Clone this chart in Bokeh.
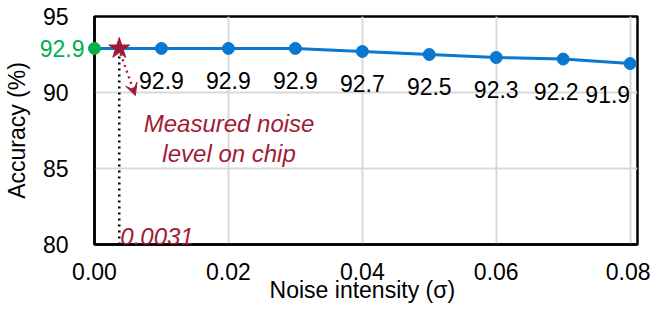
from bokeh.plotting import figure
from bokeh.models import (FixedTicker, NumeralTickFormatter, Label, Arrow, VeeHead,
                          ColumnDataSource, Range1d)
from bokeh.embed import file_html
from bokeh.resources import INLINE
from bokeh.core.properties import value

# ---- data ----
noise = [0.00, 0.01, 0.02, 0.03, 0.04, 0.05, 0.06, 0.07, 0.08]
accuracy = [92.9, 92.9, 92.9, 92.9, 92.7, 92.5, 92.3, 92.2, 91.9]
labels = ["92.9", "92.9", "92.9", "92.9", "92.7", "92.5", "92.3", "92.2", "91.9"]
measured_x = [0.0037]
measured_y = [92.9]
measured_label = "0.0031"
x_ticks = [0.00, 0.02, 0.04, 0.06, 0.08]
y_ticks = [80, 85, 90, 95]
x_title = "Noise intensity (σ)"
y_title = "Accuracy (%)"

FONT = "Liberation Sans"
BLUE = "#0A78CF"
RED = "#A01C36"
GREEN = "#00B050"
FS = "23px"
FS_ANN = "24px"

p = figure(width=650, height=305, output_backend="svg", toolbar_location=None,
           x_range=Range1d(0, 0.0811), y_range=Range1d(80, 95),
           min_border_left=79, min_border_top=16, min_border_right=13, min_border_bottom=61)

p.outline_line_color = "black"
p.outline_line_width = 2.5
p.background_fill_color = "white"
p.border_fill_color = "white"

for ax in (p.xaxis[0], p.yaxis[0]):
    ax.axis_line_color = "black"
    ax.axis_line_width = 2.5
    ax.major_tick_line_color = None
    ax.minor_tick_line_color = None
    ax.major_label_text_font = FONT
    ax.major_label_text_font_size = FS
    ax.major_label_text_color = "black"
    ax.axis_label_text_font = FONT
    ax.axis_label_text_font_size = FS
    ax.axis_label_text_font_style = "normal"
    ax.axis_label_text_color = "black"

p.xaxis.ticker = FixedTicker(ticks=x_ticks)
p.xaxis.formatter = NumeralTickFormatter(format="0.00")
p.yaxis.ticker = FixedTicker(ticks=y_ticks)
p.yaxis.axis_label = y_title
p.xaxis.major_label_standoff = 12
p.yaxis.major_label_standoff = 20
p.yaxis.axis_label_standoff = 10

p.xgrid.ticker = FixedTicker(ticks=x_ticks)
p.ygrid.ticker = FixedTicker(ticks=y_ticks)
p.xgrid.grid_line_color = "#D9D9D9"
p.ygrid.grid_line_color = "#D9D9D9"
p.xgrid.grid_line_width = 2
p.ygrid.grid_line_width = 2

# x axis title drawn as text below the tick labels
p.text(x=[(x_ticks[0] + x_ticks[-1]) / 2], y=[y_ticks[0]], text=[x_title],
       text_font=value(FONT), text_font_size=FS, text_color="black",
       text_align="center", text_baseline="middle", y_offset=45, level="overlay")

# vertical dotted line at measured noise
p.line(x=[measured_x[0], measured_x[0]], y=[80, measured_y[0]], line_color="black",
       line_width=2.5, line_dash="dotted")

src = ColumnDataSource(dict(x=noise, y=accuracy, t=labels))
p.line("x", "y", source=src, line_color=BLUE, line_width=3)
p.scatter(x=noise[1:], y=accuracy[1:], size=12, color=BLUE, level="overlay")
p.scatter(x=noise[:1], y=accuracy[:1], size=12, color=GREEN, level="overlay")

# star
p.scatter(x=measured_x, y=measured_y, marker="star", size=22, color=RED, level="overlay")

# value labels
mid = ColumnDataSource(dict(x=noise[1:-2], y=accuracy[1:-2], t=labels[1:-2]))
p.text("x", "y", text="t", source=mid, text_font=value(FONT), text_font_size=FS,
       text_align="center", text_baseline="middle", y_offset=32, text_color="black")
p.text(x=noise[-2:-1], y=accuracy[-2:-1], text=labels[-2:-1], text_font=value(FONT),
       text_font_size=FS, text_align="center", text_baseline="middle", y_offset=32,
       x_offset=-7, text_color="black")
p.text(x=noise[-1:], y=accuracy[-1:], text=labels[-1:], text_font=value(FONT),
       text_font_size=FS, text_align="right", text_baseline="middle", y_offset=31,
       text_color="black")

# green label for x=0 outside axis
p.text(x=noise[:1], y=accuracy[:1], text=labels[:1], text_font=value(FONT),
       text_font_size=FS, text_color=GREEN, text_align="right",
       text_baseline="middle", x_offset=-10, level="overlay")

# dotted arrow
p.add_layout(Arrow(x_start=measured_x[0] + 0.0002, y_start=measured_y[0] - 0.35,
                   x_end=0.0061, y_end=89.8, line_color=RED, line_width=2.5,
                   line_dash="dotted",
                   end=VeeHead(size=12, fill_color=RED, line_color=RED, line_width=1)))

# annotation text
p.add_layout(Label(x=0.0201, y=87.95, text="Measured noise", text_font=FONT,
                   text_font_size=FS_ANN, text_font_style="italic", text_color=RED,
                   text_align="center", text_baseline="middle"))
p.add_layout(Label(x=0.0201, y=86.0, text="level on chip", text_font=FONT,
                   text_font_size=FS_ANN, text_font_style="italic", text_color=RED,
                   text_align="center", text_baseline="middle"))
p.add_layout(Label(x=measured_x[0], y=80, text=measured_label, text_font=FONT,
                   text_font_size=FS_ANN, text_font_style="italic", text_color=RED,
                   text_align="left", text_baseline="bottom", x_offset=1, y_offset=0))

open("out.html", "w").write(file_html(p, INLINE))
